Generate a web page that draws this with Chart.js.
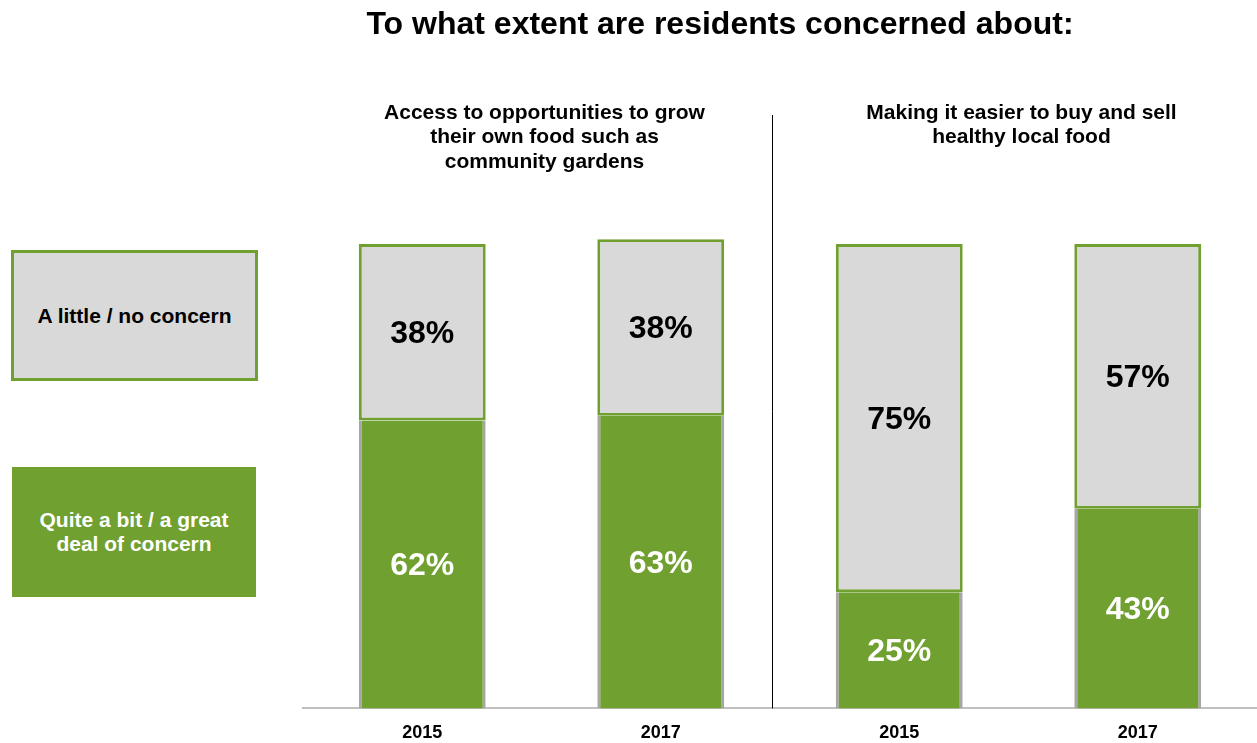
<!DOCTYPE html>
<html>
<head>
<meta charset="utf-8">
<title>Resident concerns</title>
<script src="https://cdn.jsdelivr.net/npm/chart.js@4/dist/chart.umd.min.js"></script>
<style>
  html, body { margin: 0; padding: 0; background: #fff; }
  body { width: 1257px; height: 743px; position: relative; overflow: hidden; font-family: "Liberation Sans", Arial, sans-serif; }
  #wrap { position: absolute; left: 0; top: 0; width: 1257px; height: 754px; }
  .key {
    position: absolute; box-sizing: border-box; display: flex; align-items: center; justify-content: center;
    text-align: center; font-weight: bold; font-size: 21px; line-height: 24px;
  }
  #keyLow { left: 11px; top: 250px; width: 247px; height: 131px; background: #d9d9d9; border: 3px solid #70a030; color: #000; }
  #keyHigh { left: 12px; top: 467px; width: 244px; height: 130px; background: #70a030; color: #fff; }
</style>
</head>
<body>
<div id="wrap"><canvas id="chart"></canvas></div>
<div class="key" id="keyLow"></div>
<div class="key" id="keyHigh"></div>

<script>
// categories and values (percent of residents)
const years = ['2015', '2017', '2015', '2017'];
const concerned = [62, 63, 25, 43];      // quite a bit / a great deal
const notConcerned = [38, 38, 75, 57];   // a little / no concern
const seriesNames = ['Quite a bit / a great deal of concern', 'A little / no concern'];
const panelTitles = [
  ['Access to opportunities to grow', 'their own food such as', 'community gardens'],
  ['Making it easier to buy and sell', 'healthy local food']
];
const mainTitle = 'To what extent are residents concerned about:';

const GREEN = '#70a030';
const LIGHT = '#d9d9d9';
const FONT = '"Liberation Sans", Arial, sans-serif';

document.getElementById('keyLow').textContent = seriesNames[1];
document.getElementById('keyHigh').innerHTML = 'Quite a bit / a great<br>deal of concern';

// titles, panel headings, divider and the % labels inside each segment
const decor = {
  id: 'decor',
  afterDatasetsDraw(chart) {
    const ctx = chart.ctx;
    const x = chart.scales.x;
    const area = chart.chartArea;
    ctx.save();

    // divider between the two questions
    const dx = Math.round(x.getPixelForValue(1.465)) + 0.5;
    ctx.strokeStyle = '#000';
    ctx.lineWidth = 1;
    ctx.beginPath();
    ctx.moveTo(dx, 115);
    ctx.lineTo(dx, area.bottom);
    ctx.stroke();

    ctx.textAlign = 'center';
    ctx.textBaseline = 'middle';
    ctx.fillStyle = '#000';
    ctx.font = 'bold 32px ' + FONT;
    ctx.fillText(mainTitle, 720, 25);

    ctx.font = 'bold 21px ' + FONT;
    panelTitles.forEach((lines, p) => {
      const cx = (x.getPixelForValue(p * 2) + x.getPixelForValue(p * 2 + 1)) / 2 + 3;
      lines.forEach((line, i) => ctx.fillText(line, cx, 113 + i * 24.5));
    });

    // value labels centred in each segment
    ctx.font = 'bold 32px ' + FONT;
    chart.data.datasets.forEach((ds, di) => {
      const meta = chart.getDatasetMeta(di);
      ctx.fillStyle = di === 0 ? '#fff' : '#000';
      meta.data.forEach((bar, i) => {
        const mid = (bar.y + bar.base) / 2;
        ctx.fillText(ds.data[i] + '%', bar.x, mid + 2);
      });
    });
    ctx.restore();
  }
};

new Chart(document.getElementById('chart'), {
  type: 'bar',
  data: {
    labels: years,
    datasets: [
      {
        label: seriesNames[0],
        data: concerned,
        backgroundColor: GREEN,
        borderColor: '#a6a6a6',
        borderWidth: { left: 3, right: 3, top: 0, bottom: 0 },
        borderSkipped: false
      },
      {
        label: seriesNames[1],
        data: notConcerned,
        backgroundColor: LIGHT,
        borderColor: GREEN,
        borderWidth: 3,
        borderSkipped: false
      }
    ]
  },
  options: {
    responsive: true,
    maintainAspectRatio: false,
    animation: false,
    layout: { padding: { left: 303, top: 244, right: 0, bottom: 4 } },
    datasets: { bar: { categoryPercentage: 0.532, barPercentage: 1, clip: false } },
    plugins: {
      legend: { display: false },
      tooltip: { enabled: false },
      title: { display: false }
    },
    scales: {
      x: {
        stacked: true,
        grid: { display: false },
        border: { display: true, color: '#c0c0c0', width: 2 },
        ticks: { color: '#000', padding: 6, font: { family: FONT, size: 18, weight: 'bold' } }
      },
      y: {
        stacked: true,
        display: false,
        min: 0,
        max: 100
      }
    }
  },
  plugins: [decor]
});
</script>
</body>
</html>
